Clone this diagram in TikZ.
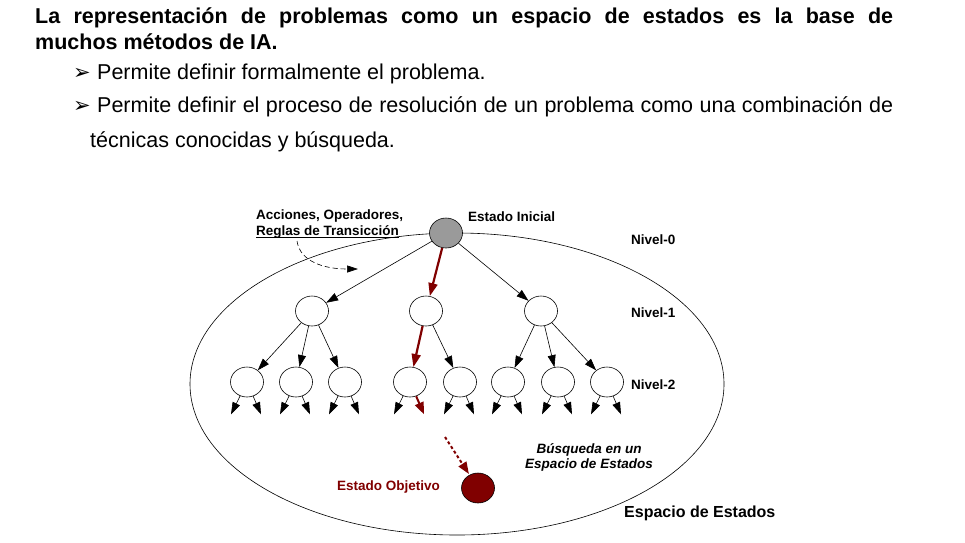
\documentclass[tikz,border=0pt]{standalone}
\usepackage{fontspec}
\setmainfont{Liberation Sans}
\newfontfamily\arrowfont{DejaVu Sans}
\usetikzlibrary{arrows.meta,shapes.geometric,calc}
\definecolor{Goal}{HTML}{800000}
\definecolor{Root}{HTML}{9A9A9A}

\tikzset{
  state/.style={draw,ellipse,minimum width=33pt,minimum height=30pt,inner sep=0pt,line width=0.6pt,fill=white},
  lbl/.style={font=\fontsize{13.5}{16}\selectfont\bfseries,inner sep=0pt},
  txt/.style={font=\fontsize{21.5}{24}\selectfont,inner sep=0pt,anchor=west},
  arr/.style={line width=0.6pt,-{Triangle[length=12pt,width=8pt]}},
  redarr/.style={Goal,line width=2.2pt,-{Triangle[length=13pt,width=9pt]}},
}

\begin{document}
\begin{tikzpicture}[x=1pt,y=-1pt]
  \useasboundingbox (0,0) rectangle (965,542);

  % texto de cabecera
  \node[txt,font=\fontsize{21.5}{24}\selectfont\bfseries] (tit1) at (35,18)
    {\makebox[858pt][s]{La representación de problemas como un espacio de estados es la base de}};
  \node[txt,font=\fontsize{21.5}{24}\selectfont\bfseries] (tit2) at (35,42) {muchos métodos de IA.};
  \node[inner sep=0pt,font=\arrowfont\fontsize{21}{21}\selectfont] (bul1) at (82,74) {➢};
  \node[txt] (pun1) at (97,74) {Permite definir formalmente el problema.};
  \node[inner sep=0pt,font=\arrowfont\fontsize{21}{21}\selectfont] (bul2) at (82,107) {➢};
  \node[txt] (pun2) at (97,107)
    {\makebox[796pt][s]{Permite definir el proceso de resolución de un problema como una combinación de}};
  \node[txt] (pun3) at (90,142) {técnicas conocidas y búsqueda.};

  % espacio de estados
  \draw[line width=0.6pt] (457,384) ellipse [x radius=267pt,y radius=151pt];

  \node[state,fill=Root] (ini) at (446,233) {};
  \foreach \i/\x in {1/312,2/426,3/541}
    \node[state] (m\i) at (\x,311) {};
  \foreach \i/\x in {1/247,2/296,3/345,4/410,5/460,6/508,7/558,8/607}
    \node[state] (s\i) at (\x,382) {};
  \node[state,fill=Goal] (obj) at (478,488) {};

  \draw[arr] (ini) -- (m1);
  \draw[redarr] (ini) -- (m2);
  \draw[arr] (ini) -- (m3);
  \foreach \i in {1,2,3}
    \draw[arr] (m1) -- (s\i);
  \draw[redarr] (m2) -- (s4);
  \draw[arr] (m2) -- (s5);
  \foreach \i in {6,7,8}
    \draw[arr] (m3) -- (s\i);

  \foreach \i in {1,...,8}{
    \coordinate (dl\i) at ([shift={(-16,17)}]s\i.south);
    \coordinate (dr\i) at ([shift={(14,17)}]s\i.south);
    \draw[arr] (s\i) -- (dl\i);
    \ifnum\i=4
      \draw[Goal,line width=2pt,-{Triangle[length=12pt,width=9pt]}] (s\i) -- (dr\i);
    \else
      \draw[arr] (s\i) -- (dr\i);
    \fi
  }

  \coordinate (busq) at (445,437);
  \draw[Goal,line width=2pt,dash pattern=on 3pt off 2.5pt,-{Triangle[length=12pt,width=9pt,sep=1pt]}] (busq) -- (obj);

  % etiquetas
  \node[lbl,align=left,anchor=west] (acc) at (256,224)
    {Acciones, Operadores,\\\underline{\smash{Reglas de Transicción}}};
  \coordinate (accini) at (297,241);
  \coordinate (accfin) at (358,269);
  \draw[line width=0.6pt,dash pattern=on 5pt off 3pt,-{Triangle[length=11pt,width=7pt]}]
    (accini) .. controls (300,262) and (325,269) .. (accfin);
  \node[lbl,anchor=west] (inilbl) at (468,217) {Estado Inicial};
  \node[lbl,anchor=west] (niv0) at (631,240) {Nivel-0};
  \node[lbl,anchor=west] (niv1) at (631,313) {Nivel-1};
  \node[lbl,anchor=west] (niv2) at (631,385) {Nivel-2};
  \node[lbl,align=center,font=\fontsize{13.5}{15}\selectfont\bfseries\itshape] (busqlbl) at (589,457)
    {Búsqueda en un\\Espacio de Estados};
  \node[lbl,anchor=west,text=Goal] (objlbl) at (337,487) {Estado Objetivo};
  \node[lbl,anchor=west,font=\fontsize{16}{18}\selectfont\bfseries] (esp) at (624,513) {Espacio de Estados};
\end{tikzpicture}
\end{document}
